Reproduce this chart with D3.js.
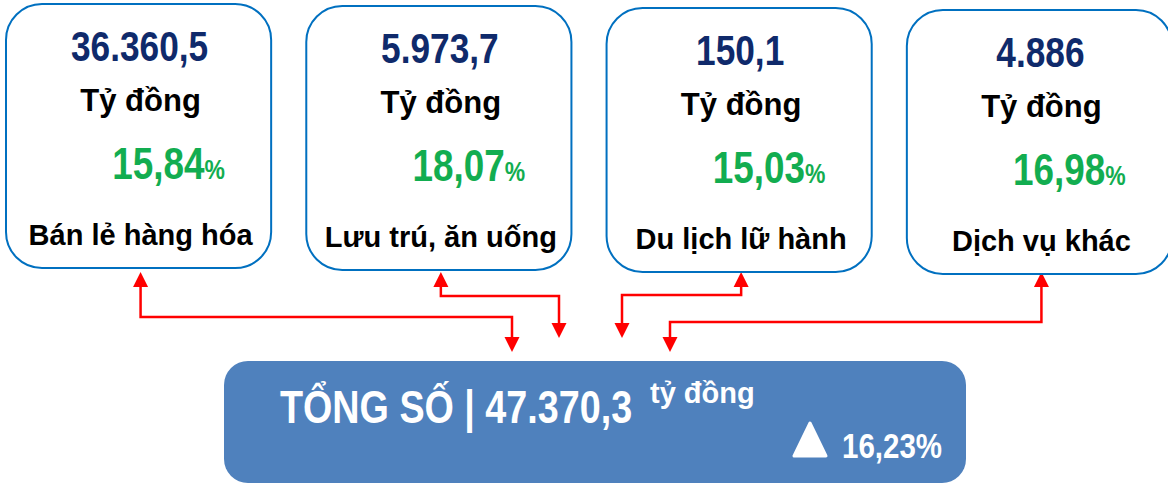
<!DOCTYPE html>
<html lang="vi">
<head>
<meta charset="UTF-8">
<title>Tổng số</title>
<style>
  body { margin: 0; padding: 0; background: #fff; }
  svg { display: block; }
  .narrow, .wide { font-family: 'Liberation Sans', Arial, sans-serif; font-weight: bold; }
</style>
</head>
<body>
<div id="chart"></div>
<script src="https://cdn.jsdelivr.net/npm/d3@7"></script>
<script>
// data
const categories = ["Bán lẻ hàng hóa", "Lưu trú, ăn uống", "Du lịch lữ hành", "Dịch vụ khác"];
const values = [36360.5, 5973.7, 150.1, 4886];
const growth = [15.84, 18.07, 15.03, 16.98];
const unit = "Tỷ đồng";
const totalLabel = "TỔNG SỐ";
const totalValue = 47370.3;
const totalUnit = "tỷ đồng";
const totalGrowth = 16.23;

// connector lanes: horizontal level and drop point on the total box (layout only)
const laneY = [317, 296, 295, 322];
const dropX = [512, 559, 622, 670];
const dropTip = [352, 338, 338, 352];

const width = 1168, height = 484;
const squeeze = 0.82; // no Arial Narrow here, so condense by hand

const vn = d3.formatLocale({ decimal: ",", thousands: ".", grouping: [3], currency: ["", ""] });
const fmtVal = vn.format(",.1~f");
const fmtPct = vn.format(".2f");

const svg = d3.select("#chart").append("svg")
    .attr("width", width)
    .attr("height", height);

const x = d3.scaleBand()
    .domain(categories)
    .range([6, 1172])
    .paddingInner(0.117)
    .paddingOuter(0);

const boxH = 264;
const boxTop = (d, i) => 4 + i * 2;

// narrow text: place at (tx, ty) and squeeze horizontally
function narrow(sel, tx, ty) {
  return sel.attr("class", "narrow")
    .attr("transform", `translate(${tx},${ty}) scale(${squeeze},1)`);
}

// connectors first so box borders sit on top
const red = "#ff0000";
function arrowHead(g, cx, tipY, dir) {
  // dir -1 = pointing up, 1 = pointing down
  const h = 15, w = 7.5;
  g.append("path")
    .attr("d", `M${cx},${tipY} L${cx - w},${tipY - dir * h} L${cx + w},${tipY - dir * h} Z`)
    .attr("fill", red);
}

const conn = svg.append("g");
categories.forEach((c, i) => {
  const cx = x(c) + x.bandwidth() / 2 + 2;
  const tipUp = 272;
  conn.append("path")
    .attr("d", `M${cx},${tipUp + 14} V${laneY[i]} H${dropX[i]} V${dropTip[i] - 14}`)
    .attr("fill", "none")
    .attr("stroke", red)
    .attr("stroke-width", 2.5);
  arrowHead(conn, cx, tipUp, -1);
  arrowHead(conn, dropX[i], dropTip[i], 1);
});

// category boxes
const boxes = svg.selectAll("g.box")
  .data(categories)
  .join("g")
    .attr("class", "box")
    .attr("transform", (d, i) => `translate(${x(d)},${boxTop(d, i)})`);

boxes.append("rect")
    .attr("width", x.bandwidth())
    .attr("height", boxH)
    .attr("rx", 36)
    .attr("fill", "#fff")
    .attr("stroke", "#0070c0")
    .attr("stroke-width", 2);

const mid = x.bandwidth() / 2;

boxes.append("text")
    .call(narrow, mid + 1, 57)
    .attr("text-anchor", "middle")
    .attr("font-size", 43)
    .attr("fill", "#0f2a6b")
    .text((d, i) => fmtVal(values[i]));

boxes.append("text")
    .attr("class", "wide")
    .attr("x", mid + 2)
    .attr("y", 107)
    .attr("text-anchor", "middle")
    .attr("font-size", 31)
    .attr("fill", "#000")
    .text(unit);

const pct = boxes.append("text")
    .call(narrow, mid + 30, 175)
    .attr("text-anchor", "middle")
    .attr("fill", "#12ad50");
pct.append("tspan")
    .attr("font-size", 45)
    .text((d, i) => fmtPct(growth[i]));
pct.append("tspan")
    .attr("font-size", 28)
    .text("%");

boxes.append("text")
    .attr("class", "wide")
    .attr("x", mid + 2)
    .attr("y", 241)
    .attr("text-anchor", "middle")
    .attr("font-size", 29)
    .attr("fill", "#000")
    .text(d => d);

// total box
const total = svg.append("g").attr("transform", "translate(224,361)");
total.append("rect")
    .attr("width", 742)
    .attr("height", 122)
    .attr("rx", 24)
    .attr("fill", "#4f81bd");

total.append("text")
    .call(narrow, 56, 62)
    .attr("font-size", 46)
    .attr("fill", "#fff")
    .text(`${totalLabel} | ${fmtVal(totalValue)}`);

total.append("text")
    .attr("class", "wide")
    .attr("x", 426)
    .attr("y", 42)
    .attr("font-size", 29)
    .attr("fill", "#fff")
    .text(totalUnit);

total.append("path")
    .attr("d", d3.line().curve(d3.curveLinearClosed)([[586, 62], [602, 95], [570, 95]]))
    .attr("fill", "#fff")
    .attr("stroke", "#fff")
    .attr("stroke-width", 3)
    .attr("stroke-linejoin", "round");

total.append("text")
    .call(narrow, 618, 97)
    .attr("font-size", 36)
    .attr("fill", "#fff")
    .text(fmtPct(totalGrowth) + "%");
</script>
</body>
</html>
